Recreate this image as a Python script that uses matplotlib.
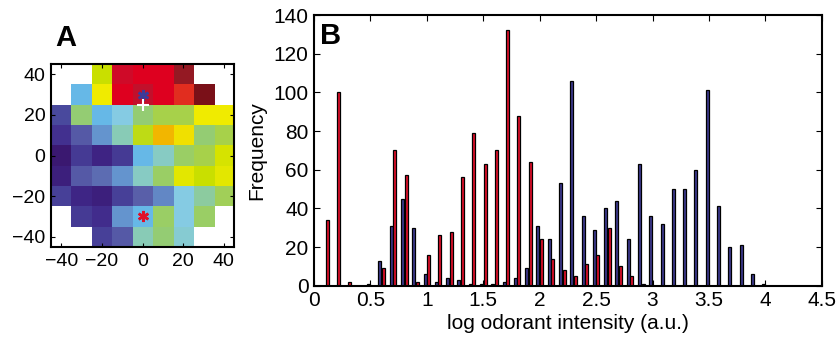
import numpy as np
import matplotlib
matplotlib.use('Agg')
import matplotlib.pyplot as plt
from matplotlib.colors import LinearSegmentedColormap

plt.rcParams['font.family'] = ['Liberation Sans', 'DejaVu Sans']

# panel A: receptive field map, rows from y=40 (top) down to y=-40
nan = np.nan
grid_pos = [-40, -30, -20, -10, 0, 10, 20, 30, 40]
field = np.array([
    [nan, nan, 0.70, 0.94, 0.92, 0.92, 0.975, nan, nan],
    [nan, 0.38, 0.76, 0.92, 0.95, 0.92, 0.88, 1.00, nan],
    [0.15, 0.58, 0.38, 0.45, 0.58, 0.64, 0.64, 0.76, 0.76],
    [0.10, 0.20, 0.30, 0.52, 0.68, 0.82, 0.77, 0.58, 0.64],
    [0.00, 0.12, 0.06, 0.12, 0.38, 0.50, 0.60, 0.64, 0.72],
    [0.04, 0.20, 0.24, 0.30, 0.50, 0.60, 0.74, 0.70, 0.74],
    [0.13, 0.07, 0.04, 0.13, 0.22, 0.28, 0.45, 0.54, 0.62],
    [nan, 0.12, 0.09, 0.30, 0.38, 0.60, 0.45, 0.60, nan],
    [nan, nan, 0.13, 0.20, 0.52, 0.58, 0.48, nan, nan],
])
blue_mark = (0, 30)
white_mark = (0, 25)
red_mark = (0, -30)

# panel B: histogram counts per bin
bins = [0.1, 0.2, 0.3, 0.4, 0.5, 0.6, 0.7, 0.8, 0.9, 1.0,
        1.1, 1.2, 1.3, 1.4, 1.5, 1.6, 1.7, 1.8, 1.9, 2.0,
        2.1, 2.2, 2.3, 2.4, 2.5, 2.6, 2.7, 2.8, 2.9, 3.0,
        3.1, 3.2, 3.3, 3.4, 3.5, 3.6, 3.7, 3.8, 3.9, 4.0]
blue_counts = [0, 0, 0, 0, 1, 13, 31, 45, 30, 6,
               2, 4, 3, 1, 1, 1, 2, 4, 9, 31,
               24, 53, 106, 36, 29, 40, 44, 24, 63, 36,
               32, 50, 50, 60, 101, 41, 20, 21, 6, 1]
red_counts = [34, 100, 2, 0, 0, 9, 70, 57, 2, 16,
              26, 28, 56, 79, 63, 70, 132, 88, 64, 24,
              14, 8, 5, 11, 16, 30, 10, 5, 1, 0,
              0, 0, 0, 0, 0, 0, 0, 0, 0, 0]

cmap = LinearSegmentedColormap.from_list('rf', [
    (0.00, '#3a1870'), (0.08, '#40288a'), (0.15, '#4a4a9e'),
    (0.22, '#5a60aa'), (0.30, '#6596cf'), (0.38, '#66b8e8'),
    (0.45, '#85cce4'), (0.52, '#88cbb8'), (0.58, '#94cc74'),
    (0.64, '#a8d24a'), (0.70, '#c8df00'), (0.76, '#f0ec00'),
    (0.82, '#f3b600'), (0.88, '#e23020'), (0.92, '#e0001f'),
    (0.95, '#c80f2c'), (0.975, '#961a24'), (1.00, '#7a1018')])
cmap.set_bad('white')

fig = plt.figure(figsize=[8.38, 3.42], dpi=100)

ax1 = fig.add_axes([0.0609, 0.2778, 0.2184, 0.535])
ax1.imshow(np.ma.masked_invalid(field), cmap=cmap, vmin=0, vmax=1,
           extent=[-45, 45, -45, 45], interpolation='nearest', aspect='auto')
ax1.plot(*blue_mark, marker=(6, 2, 0), color='#3d3a9a', ms=8, mew=1.8)
ax1.plot(*white_mark, marker='+', color='white', ms=9, mew=1.5)
ax1.plot(*red_mark, marker=(6, 2, 0), color='#e0102a', ms=8, mew=1.8)
ax1.set_xlim(-45, 45)
ax1.set_ylim(-45, 45)
ax1.set_xticks([-40, -20, 0, 20, 40])
ax1.set_yticks([-40, -20, 0, 20, 40])
ax1.set_xticklabels(['\u221240', '\u221220', '0', '20', '40'])
ax1.set_yticklabels(['\u221240', '\u221220', '0', '20', '40'])
ax1.tick_params(direction='in', top=True, right=True, length=3, labelsize=14, pad=4)
for s in ax1.spines.values():
    s.set_linewidth(1.5)
fig.text(0.066, 0.865, 'A', fontsize=21, fontweight='bold')

ax2 = fig.add_axes([0.3747, 0.1646, 0.606, 0.7915])
x = np.array(bins)
w = 0.027
ax2.bar(x - 0.016, blue_counts, width=w, color='#3d3a8e', edgecolor='black', linewidth=0.9)
ax2.bar(x + 0.016, red_counts, width=w, color='#e0102a', edgecolor='black', linewidth=0.9)
ax2.set_xlim(0, 4.5)
ax2.set_ylim(0, 140)
ax2.set_xticks([0, 0.5, 1, 1.5, 2, 2.5, 3, 3.5, 4, 4.5])
ax2.set_xticklabels(['0', '0.5', '1', '1.5', '2', '2.5', '3', '3.5', '4', '4.5'])
ax2.set_yticks(range(0, 141, 20))
ax2.tick_params(direction='in', top=True, right=True, length=4, labelsize=15, pad=4)
ax2.set_xlabel('log odorant intensity (a.u.)', fontsize=15, labelpad=3)
ax2.set_ylabel('Frequency', fontsize=15, labelpad=5)
for s in ax2.spines.values():
    s.set_linewidth(1.5)
ax2.text(0.012, 0.975, 'B', transform=ax2.transAxes, fontsize=21,
         fontweight='bold', va='top', ha='left')

fig.savefig('out.png', dpi=100)
